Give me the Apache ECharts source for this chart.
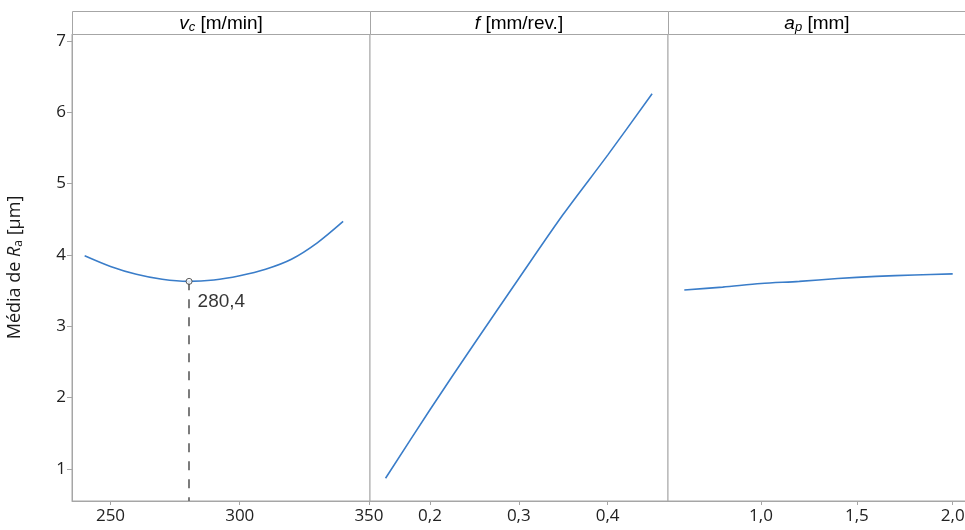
<!DOCTYPE html>
<html><head><meta charset="utf-8">
<script src="https://cdn.jsdelivr.net/npm/echarts@6/dist/echarts.min.js"></script>
<style>html,body{margin:0;padding:0;background:#fff;overflow:hidden}#c{width:965px;height:530px}</style>
</head><body><div id="c"></div>
<script>
// ---- data ----
const vcValues = [240, 250, 260, 270, 280, 290, 300, 310, 320, 330, 340];
const vcRa     = [3.99, 3.84, 3.73, 3.66, 3.63, 3.65, 3.71, 3.80, 3.94, 4.17, 4.47];
const vcOptimum = [280.4, 3.63];
const vcOptimumLabel = '280,4';
const fValues = [0.15, 0.20, 0.25, 0.30, 0.35, 0.40, 0.45];
const fRa     = [0.87, 1.83, 2.76, 3.67, 4.57, 5.40, 6.26];
const apValues = [0.6, 0.8, 1.0, 1.2, 1.4, 1.6, 1.8, 2.0];
const apRa     = [3.51, 3.55, 3.60, 3.63, 3.67, 3.70, 3.72, 3.735];
const yTicks  = [1, 2, 3, 4, 5, 6, 7];
const vcTicks = [250, 300, 350];
const fTicks  = [0.2, 0.3, 0.4];
const apTicks = [1.0, 1.5, 2.0];
const panelTitles = ['{i|v}{s|c}{n| [m/min]}', '{i|f}{n| [mm/rev.]}', '{i|a}{s|p}{n| [mm]}'];

// ---- layout ----
const Y_MIN = 0.551, Y_MAX = 7.098;
const xRanges = [[235.1, 350.4], [0.1325, 0.4679], [0.515, 2.085]];
const panelLeft = [72, 370, 668];
const panelW = [298, 298, 301];
const TOP = 34, BOTTOM_Y = 501, HEAD_TOP = 11;
const GRAY = '#a6a6a6';
const BLUE = '#3a7dc9';
const TICKFONT = 'Open Sans';

const chart = echarts.init(document.getElementById('c'), null, {renderer: 'canvas'});

const grids = panelLeft.map((l, i) => ({
  left: l, top: TOP, width: panelW[i], height: BOTTOM_Y - TOP,
  outerBoundsMode: 'none', containLabel: false,
  show: true, borderColor: GRAY, borderWidth: 1, backgroundColor: '#fff'
}));

const tickFmt = [v => String(Math.round(v)), v => v.toFixed(1).replace('.', ','), v => v.toFixed(1).replace('.', ',')];
const tickSets = [vcTicks, fTicks, apTicks];

const xAxes = [0, 1, 2].map(i => ({
  type: 'value', gridIndex: i, min: xRanges[i][0], max: xRanges[i][1],
  axisLine: {show: true, lineStyle: {color: GRAY, width: 1}},
  axisTick: {show: true, length: 4, lineStyle: {color: GRAY}, customValues: tickSets[i]},
  axisLabel: {show: true, customValues: tickSets[i], formatter: tickFmt[i], fontFamily: TICKFONT, fontSize: 17, color: '#222', margin: 7},
  splitLine: {show: false}
}));

const yAxes = [0, 1, 2].map(i => ({
  type: 'value', gridIndex: i, min: Y_MIN, max: Y_MAX,
  axisLine: {show: i === 0, lineStyle: {color: GRAY}},
  axisTick: {show: i === 0, length: 5, lineStyle: {color: GRAY}, customValues: yTicks},
  axisLabel: {show: i === 0, customValues: yTicks, fontFamily: TICKFONT, fontSize: 17, color: '#222', margin: 6},
  splitLine: {show: false},
  name: i === 0 ? '{n|Média de }{i|R}{s|a}{n| [µm]}' : '',
  nameLocation: 'middle', nameGap: 47, nameRotate: 90,
  nameTextStyle: {
    rich: {
      n: {fontFamily: TICKFONT, fontSize: 18, color: '#1a1a1a'},
      i: {fontFamily: TICKFONT, fontSize: 18, fontStyle: 'italic', color: '#1a1a1a'},
      s: {fontFamily: TICKFONT, fontSize: 12, color: '#1a1a1a', padding: [9, 0, 0, 0]}
    }
  }
}));

const graphics = [];
panelLeft.forEach((l, i) => {
  graphics.push({type: 'rect', shape: {x: l + 0.5, y: HEAD_TOP + 0.5, width: panelW[i], height: TOP - HEAD_TOP}, style: {fill: '#fff', stroke: GRAY, lineWidth: 1}, z: 10});
  graphics.push({type: 'text', x: l + 149, y: HEAD_TOP + (TOP - HEAD_TOP) / 2 + 1, z: 11,
    style: {text: panelTitles[i], align: 'center', verticalAlign: 'middle',
      rich: {
        n: {fontFamily: 'Liberation Sans', fontSize: 19, fill: '#000'},
        i: {fontFamily: 'Liberation Sans', fontSize: 19, fontStyle: 'italic', fill: '#000'},
        s: {fontFamily: 'Liberation Sans', fontSize: 13, fontStyle: 'italic', fill: '#000', padding: [8, 0, 0, 0]}
      }}});
});

const zip = (a, b) => a.map((v, i) => [v, b[i]]);

chart.setOption({
  animation: false,
  backgroundColor: '#fff',
  grid: grids,
  xAxis: xAxes,
  yAxis: yAxes,
  graphic: graphics,
  series: [
    {type: 'line', xAxisIndex: 0, yAxisIndex: 0, data: zip(vcValues, vcRa), smooth: 0.3, showSymbol: false, lineStyle: {color: BLUE, width: 1.6}},
    {type: 'line', xAxisIndex: 1, yAxisIndex: 1, data: zip(fValues, fRa), smooth: 0.3, showSymbol: false, lineStyle: {color: BLUE, width: 1.6}},
    {type: 'line', xAxisIndex: 2, yAxisIndex: 2, data: zip(apValues, apRa), smooth: 0.3, showSymbol: false, lineStyle: {color: BLUE, width: 1.6}},
    {type: 'scatter', xAxisIndex: 0, yAxisIndex: 0, data: [vcOptimum], z: 5,
      symbol: 'circle', symbolSize: 6,
      itemStyle: {color: '#fff', borderColor: '#333', borderWidth: 1},
      label: {show: true, formatter: vcOptimumLabel, position: 'right', distance: 5, offset: [0, 20], fontFamily: 'Liberation Sans', fontSize: 19, color: '#000'},
      markLine: {silent: true, symbol: 'none', label: {show: false}, z: 1,
        lineStyle: {type: [9, 9], color: '#6e6e6e', width: 1.8},
        data: [[{coord: vcOptimum}, {coord: [vcOptimum[0], Y_MIN]}]]}
    }
  ]
});
</script></body></html>
